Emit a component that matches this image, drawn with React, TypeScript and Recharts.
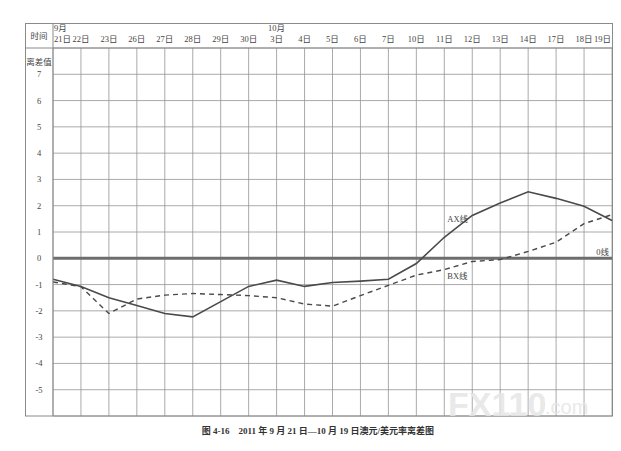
import React from "react";
import { LineChart, Line, XAxis, YAxis, CartesianGrid, ReferenceLine } from "recharts";

// trading days, 2011-09-21 .. 2011-10-19
const days = ["21日", "22日", "23日", "26日", "27日", "28日", "29日", "30日", "3日", "4日", "5日", "6日", "7日", "10日", "11日", "12日", "13日", "14日", "17日", "18日", "19日"];
const months = ["9月", "", "", "", "", "", "", "", "10月", "", "", "", "", "", "", "", "", "", "", "", ""];
const axLine = [-0.8, -1.07, -1.5, -1.8, -2.1, -2.23, -1.65, -1.07, -0.83, -1.07, -0.92, -0.87, -0.8, -0.2, 0.8, 1.63, 2.1, 2.53, 2.28, 1.98, 1.44];
const bxLine = [-0.9, -1.08, -2.1, -1.55, -1.4, -1.34, -1.38, -1.42, -1.5, -1.74, -1.82, -1.42, -1.03, -0.64, -0.43, -0.12, -0.05, 0.26, 0.61, 1.32, 1.66];
const yTicks = [-6, -5, -4, -3, -2, -1, 0, 1, 2, 3, 4, 5, 6, 7, 8];
const labelIndex = 14; // where "AX线" / "BX线" sit

const data = days.map((day, i) => ({ day, month: months[i], ax: axLine[i], bx: bxLine[i] }));

const FONT = '"Liberation Serif", "Noto Sans CJK SC", serif';
const INK = "#444";
const FS = 8.5;

const DayTick = (props: any) => {
  const { x, index } = props;
  const last = index === days.length - 1;
  const anchor = index === 0 ? "start" : last ? "end" : "middle";
  const tx = index === 0 ? x + 1 : last ? x - 1 : x;
  return (
    <g>
      {months[index] ? (
        <text x={index === 0 ? x + 1 : x} y={31} textAnchor={index === 0 ? "start" : "middle"} fontSize={FS} fill={INK} fontFamily={FONT}>
          {months[index]}
        </text>
      ) : null}
      <text x={tx} y={42} textAnchor={anchor} fontSize={FS} fill={INK} fontFamily={FONT}>
        {days[index]}
      </text>
    </g>
  );
};

const ValueTick = (props: any) => {
  const { y, payload } = props;
  if (payload.value < -5 || payload.value > 7) return null;
  return (
    <text x={39} y={y + 3} textAnchor="middle" fontSize={FS} fill={INK} fontFamily={FONT}>
      {payload.value}
    </text>
  );
};

const lineLabel = (text: string, dx: number, dy: number) => (props: any) => {
  if (props.index !== labelIndex) return null;
  return (
    <text x={props.x + dx} y={props.y + dy} fontSize={8.5} fill={INK} fontFamily={FONT}>
      {text}
    </text>
  );
};

export default function App() {
  return (
    <div style={{ position: "absolute", left: 0, top: 0, width: 621, height: 451, background: "#fff" }}>
      <LineChart width={621} height={451} data={data} margin={{ top: 23, right: 9, bottom: 35, left: 25 }}>
        <CartesianGrid stroke="#949494" strokeWidth={0.8} />
        <XAxis dataKey="day" orientation="top" height={25} interval={0} axisLine={false} tickLine={false} tick={DayTick} />
        <YAxis width={28} domain={[-6, 8]} ticks={yTicks} interval={0} axisLine={false} tickLine={false} tick={ValueTick} />
        <ReferenceLine
          y={0}
          stroke="#6e6e6e"
          strokeWidth={3}
          label={{ value: "0线", position: "insideBottomRight", offset: 3, fontSize: 8.5, fill: INK, fontFamily: FONT }}
        />
        <Line dataKey="bx" stroke="#4a4a4a" strokeWidth={1.4} strokeDasharray="5 4" dot={false} isAnimationActive={false} label={lineLabel("BX线", 3, 9)} />
        <Line dataKey="ax" stroke="#4a4a4a" strokeWidth={1.6} dot={false} isAnimationActive={false} label={lineLabel("AX线", 3, -15)} />
      </LineChart>
      <svg width={621} height={451} style={{ position: "absolute", left: 0, top: 0, pointerEvents: "none" }}>
        <rect x={25.5} y={23.5} width={587} height={392.5} fill="none" stroke="#8a8a8a" strokeWidth={1} />
        <line x1={25} y1={48} x2={612} y2={48} stroke="#8a8a8a" strokeWidth={1} />
        <line x1={53} y1={23} x2={53} y2={416} stroke="#8a8a8a" strokeWidth={1} />
        <text x={39} y={39} textAnchor="middle" fontSize={FS} fill={INK} fontFamily={FONT}>时间</text>
        <text x={39} y={65} textAnchor="middle" fontSize={FS} fill={INK} fontFamily={FONT}>离差值</text>
        <text x={448} y={416} fontSize={34} fontWeight="bold" fill="#e6e6e6" fillOpacity={0.9} fontFamily="Liberation Sans, sans-serif">FX110</text>
        <text x={545} y={414} fontSize={20} fill="#e6e6e6" fillOpacity={0.9} fontFamily="Liberation Sans, sans-serif">.com</text>
        <text x={318} y={434} textAnchor="middle" fontSize={9} fontWeight="bold" fill="#333" fontFamily={FONT}>
          图 4-16　2011 年 9 月 21 日—10 月 19 日澳元/美元率离差图
        </text>
      </svg>
    </div>
  );
}
